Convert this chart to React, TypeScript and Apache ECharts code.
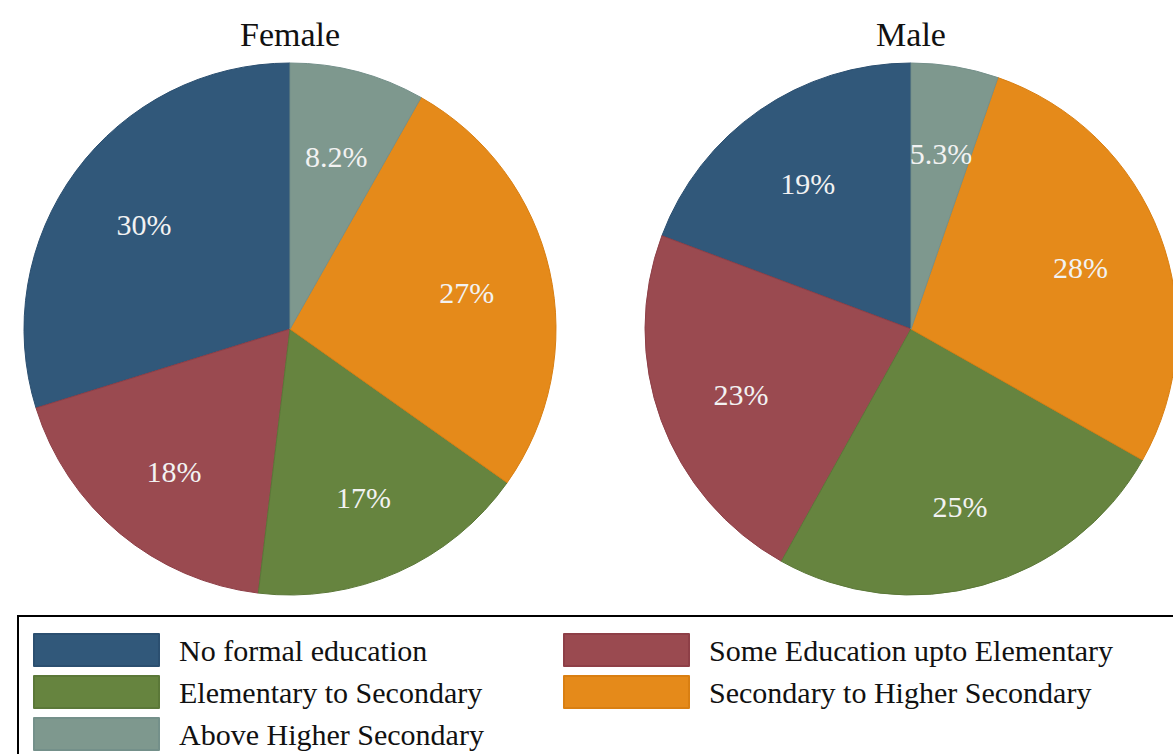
import React, { useEffect, useRef } from "react";
import * as echarts from "echarts";

const categories = [
  "No formal education",
  "Some Education upto Elementary",
  "Elementary to Secondary",
  "Secondary to Higher Secondary",
  "Above Higher Secondary",
];
const panelTitles = ["Female", "Male"];
const femaleValues = [29.8, 18.3, 17.1, 26.6, 8.2];
const maleValues = [19.3, 22.6, 24.9, 27.9, 5.3];
const sliceColors = ["#31587A", "#9A4A50", "#66843F", "#E58A1A", "#7E988E"];
const edgeColors = ["#2B4F70", "#8E3F47", "#5B7838", "#D97F12", "#74908A"];
const legendLeftColumn = [categories[0], categories[2], categories[4]];
const legendRightColumn = [categories[1], categories[3]];

const SERIF = "'Liberation Serif', 'DejaVu Serif', serif";

function fmt(v: number): string {
  return v < 10 ? v.toFixed(1) + "%" : Math.round(v) + "%";
}

export default function App() {
  const ref = useRef<HTMLDivElement>(null);
  useEffect(() => {
    if (!ref.current) return;
    const chart = echarts.init(ref.current, undefined, { renderer: "svg" });
    const R = 266;
    const centers = [
      [290, 329],
      [911, 329],
    ];
    const valueSets = [femaleValues, maleValues];
    const series: any[] = [];
    valueSets.forEach((vals, i) => {
      series.push({
        type: "pie",
        name: panelTitles[i],
        center: centers[i],
        radius: [0, R],
        startAngle: 90,
        clockwise: false,
        silent: true,
        label: { show: false },
        labelLine: { show: false },
        data: vals.map((v, k) => ({
          name: categories[k],
          value: v,
          itemStyle: { color: sliceColors[k], borderColor: edgeColors[k], borderWidth: 1 },
        })),
      });
    });
    valueSets.forEach((vals, i) => {
      series.push({
        type: "pie",
        name: panelTitles[i] + " labels",
        center: [centers[i][0], centers[i][1] + 3],
        radius: [R * 0.34, R],
        startAngle: 90,
        clockwise: false,
        silent: true,
        z: 5,
        itemStyle: { color: "rgba(0,0,0,0)", borderWidth: 0 },
        label: {
          show: true,
          position: "inside",
          formatter: (p: any) => fmt(p.value),
          color: "#F2F2F2",
          fontFamily: SERIF,
          fontSize: 30,
        },
        labelLine: { show: false },
        data: vals.map((v, k) => ({ name: categories[k], value: v })),
      });
    });
    const legendBase = {
      orient: "vertical",
      top: 633,
      height: 200,
      padding: 0,
      icon: "rect",
      itemWidth: 125,
      itemHeight: 32,
      itemGap: 8,
      selectedMode: false,
      textStyle: {
        fontFamily: SERIF,
        fontSize: 30,
        color: "#111",
        lineHeight: 32,
        padding: [0, 0, 0, 15],
      },
    };
    chart.setOption({
      animation: false,
      backgroundColor: "#fff",
      legend: [
        { ...legendBase, left: 33, data: legendLeftColumn },
        { ...legendBase, left: 563, data: legendRightColumn },
      ],
      graphic: [
        ...panelTitles.map((t, i) => ({
          type: "text",
          x: centers[i][0],
          y: 34,
          style: {
            text: t,
            fontFamily: SERIF,
            fontSize: 34,
            fill: "#111",
            align: "center",
            verticalAlign: "middle",
          },
        })),
        {
          type: "rect",
          shape: { x: 18, y: 616, width: 1200, height: 200 },
          style: { fill: "none", stroke: "#000", lineWidth: 2 },
          z: -1,
        },
      ],
      series,
    });
    return () => chart.dispose();
  }, []);
  return (
    <div
      ref={ref}
      style={{ position: "fixed", left: 0, top: 0, width: 1173, height: 754 }}
    />
  );
}
